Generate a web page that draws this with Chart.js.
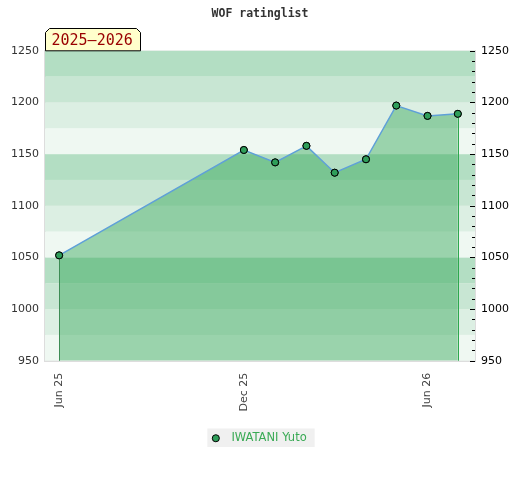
<!DOCTYPE html>
<html>
<head>
<meta charset="utf-8">
<script src="https://cdn.jsdelivr.net/npm/chart.js@4/dist/chart.umd.min.js"></script>
<style>
  html, body { margin: 0; padding: 0; background: #fff; }
  #wrap { position: relative; width: 520px; height: 480px; }
</style>
</head>
<body>
<div id="wrap"><canvas id="c" width="520" height="480"></canvas></div>
<script>
// monthly rating points (timestamps as yyyy-mm-dd)
const dates = ['2025-06-01', '2025-12-01', '2026-01-01', '2026-02-01', '2026-03-01',
  '2026-04-01', '2026-05-01', '2026-06-01', '2026-07-01'];
const ratings = [1052, 1154, 1142, 1158, 1132, 1145, 1197, 1187, 1189];
const tickDates = ['2025-06-01', '2025-12-01', '2026-06-01'];
const tickLabels = ['Jun 25', 'Dec 25', 'Jun 26'];
const playerName = 'IWATANI Yuto';
const seasonLabel = '2025\u20132026';

const toTs = s => new Date(s + 'T00:00:00Z').getTime();
const points = dates.map((d, i) => ({ x: toTs(d), y: ratings[i] }));
const tickTs = tickDates.map(toTs);

const bandColors = ['#eff8f2', '#dcefe3', '#c8e6d3', '#b3dec3'];

const bands = {
  id: 'bands',
  beforeDraw(chart) {
    // grey box behind the legend entry
    const lg = chart.legend;
    if (lg && lg.legendHitBoxes && lg.legendHitBoxes.length) {
      const b = lg.legendHitBoxes[0];
      chart.ctx.save();
      chart.ctx.fillStyle = '#f0f0f0';
      chart.ctx.fillRect(b.left - 6, b.top - 4, b.width + 14, b.height + 7);
      chart.ctx.restore();
    }
  },
  beforeDatasetsDraw(chart) {
    const { ctx, chartArea: a, scales: { y } } = chart;
    ctx.save();
    for (let v = y.min; v < y.max; v += 25) {
      const idx = Math.floor(((v - 950) % 100) / 25);
      ctx.fillStyle = bandColors[idx];
      const top = y.getPixelForValue(v + 25), bot = y.getPixelForValue(v);
      ctx.fillRect(a.left, top, a.right - a.left, bot - top);
    }
    ctx.restore();
  }
};

const drops = {
  id: 'drops',
  afterDatasetsDraw(chart) {
    const { ctx, chartArea: a } = chart;
    const meta = chart.getDatasetMeta(0).data;
    ctx.save();
    ctx.lineWidth = 1;
    [[meta[0], '#3d8c55'], [meta[meta.length - 1], '#2ea84e']].forEach(([p, col]) => {
      ctx.strokeStyle = col;
      ctx.beginPath();
      ctx.moveTo(Math.round(p.x) + 0.5, p.y);
      ctx.lineTo(Math.round(p.x) + 0.5, a.bottom);
      ctx.stroke();
    });
    // redraw points on top
    meta.forEach(p => p.draw(ctx, a));
    // right axis ticks drawn inside the plot edge
    const y2 = chart.scales.y2;
    ctx.strokeStyle = '#000';
    for (let v = 950; v <= 1250; v += 10) {
      const py = Math.round(y2.getPixelForValue(v)) + 0.5;
      const len = v % 50 === 0 ? 5 : 3;
      ctx.beginPath();
      ctx.moveTo(a.right - len, py);
      ctx.lineTo(a.right, py);
      ctx.stroke();
    }
    ctx.restore();
  }
};

const tag = {
  id: 'tag',
  afterDraw(chart) {
    const { ctx, chartArea: a } = chart;
    const x0 = a.left + 0.5, x1 = a.left + 95.5, y0 = 28.5, y1 = a.top;
    ctx.save();
    ctx.beginPath();
    ctx.moveTo(x0, y1);
    ctx.lineTo(x0, y0 + 4);
    ctx.lineTo(x0 + 4, y0);
    ctx.lineTo(x1 - 4, y0);
    ctx.lineTo(x1, y0 + 4);
    ctx.lineTo(x1, y1);
    ctx.closePath();
    ctx.fillStyle = '#ffffcc';
    ctx.fill();
    ctx.strokeStyle = '#000';
    ctx.lineWidth = 1;
    ctx.stroke();
    ctx.fillStyle = '#990000';
    ctx.font = '15px "DejaVu Sans Mono"';
    ctx.textBaseline = 'middle';
    ctx.fillText(seasonLabel, x0 + 6, (y0 + y1) / 2 + 1);
    ctx.restore();
  }
};

const plain = v => String(v);

new Chart(document.getElementById('c'), {
  type: 'line',
  data: {
    datasets: [{
      label: playerName,
      data: points,
      borderColor: '#5fa0d8',
      borderWidth: 1.5,
      backgroundColor: 'rgba(52,166,86,0.45)',
      fill: 'start',
      tension: 0,
      pointRadius: 3.5,
      pointBackgroundColor: '#2f9e5a',
      pointBorderColor: '#000',
      pointBorderWidth: 1,
      pointStyle: 'circle'
    }]
  },
  options: {
    responsive: false,
    animation: false,
    layout: { padding: { left: 0, right: 0, top: 0, bottom: 26 } },
    plugins: {
      title: {
        display: true,
        text: 'WOF ratinglist',
        color: '#333',
        font: { family: '"DejaVu Sans Mono"', size: 11.5, weight: 'bold' },
        padding: { top: 7, bottom: 30 }
      },
      legend: {
        position: 'bottom',
        labels: {
          usePointStyle: true,
          boxWidth: 5,
          boxHeight: 5,
          color: '#3aaa55',
          font: { family: '"DejaVu Sans"', size: 11.5 },
          padding: 17,
          generateLabels: chart => {
            const items = Chart.defaults.plugins.legend.labels.generateLabels(chart);
            items.forEach(it => { it.text = '  ' + it.text; });
            return items;
          }
        }
      },
      tooltip: { enabled: false }
    },
    scales: {
      x: {
        type: 'linear',
        min: toTs('2025-05-18'),
        max: toTs('2026-07-18'),
        afterBuildTicks: s => { s.ticks = tickTs.map(v => ({ value: v })); },
        ticks: {
          autoSkip: false,
          maxRotation: 90,
          minRotation: 90,
          color: '#444',
          font: { family: '"DejaVu Sans"', size: 11 },
          padding: 4,
          callback: (v) => tickLabels[tickTs.indexOf(v)]
        },
        grid: { display: false },
        border: { color: '#ddd', width: 2 }
      },
      y: {
        position: 'left',
        min: 950,
        max: 1250,
        ticks: {
          stepSize: 50,
          color: '#333',
          font: { family: '"DejaVu Sans"', size: 11 },
          padding: 6,
          callback: plain
        },
        grid: { color: 'rgba(0,0,0,0.05)', drawTicks: false },
        border: { color: '#ddd', width: 2 },
        afterFit: s => { s.width = 45; }
      },
      y2: {
        position: 'right',
        min: 950,
        max: 1250,
        ticks: {
          stepSize: 50,
          color: '#000',
          font: { family: '"DejaVu Sans"', size: 11 },
          padding: 6,
          callback: plain
        },
        grid: { display: false, drawTicks: false },
        border: { color: '#ddd', width: 1 },
        afterFit: s => { s.width = 45; }
      }
    }
  },
  plugins: [bands, drops, tag]
});
</script>
</body>
</html>
